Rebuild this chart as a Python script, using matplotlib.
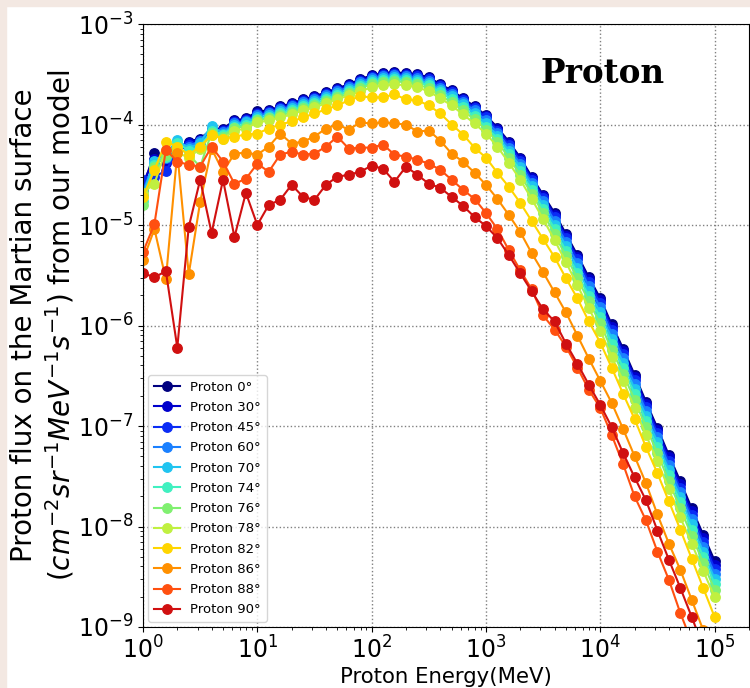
import numpy as np
import matplotlib
matplotlib.use('Agg')
import matplotlib.pyplot as plt
from matplotlib.patches import Rectangle

plt.rcParams['figure.figsize'] = [7.5, 6.88]
plt.rcParams['figure.dpi'] = 100

# ---------------------------------------------------------------------------- #
# energies: 10 points per decade from 1 MeV to 1e5 MeV
energy_exp = np.arange(0, 51) / 10.0

# log10 of the flux for every zenith angle
log_flux_0 = [-4.62, -4.28, -4.35, -4.24, -4.17, -4.14, -4.05, -4.04, -3.96, -3.94,
              -3.87, -3.86, -3.82, -3.79, -3.75, -3.72, -3.68, -3.64, -3.60, -3.55,
              -3.51, -3.49, -3.48, -3.49, -3.50, -3.53, -3.60, -3.66, -3.74, -3.82,
              -3.91, -4.03, -4.17, -4.33, -4.52, -4.70, -4.88, -5.09, -5.30, -5.52,
              -5.73, -5.99, -6.23, -6.49, -6.76, -7.02, -7.29, -7.55, -7.82, -8.08, -8.34]
log_flux_30 = [-4.58, -4.34, -4.38, -4.25, -4.18, -4.15, -4.06, -4.05, -3.97, -3.95,
               -3.89, -3.87, -3.83, -3.80, -3.76, -3.73, -3.69, -3.65, -3.61, -3.56,
               -3.52, -3.50, -3.49, -3.50, -3.51, -3.54, -3.61, -3.67, -3.75, -3.83,
               -3.92, -4.04, -4.18, -4.34, -4.53, -4.71, -4.90, -5.11, -5.32, -5.54,
               -5.75, -6.01, -6.25, -6.51, -6.78, -7.04, -7.31, -7.58, -7.85, -8.11, -8.38]
log_flux_45 = [-4.55, -4.52, -4.46, -4.27, -4.20, -4.17, -4.08, -4.06, -3.98, -3.96,
               -3.90, -3.88, -3.84, -3.81, -3.77, -3.74, -3.70, -3.66, -3.62, -3.57,
               -3.53, -3.51, -3.50, -3.51, -3.52, -3.55, -3.62, -3.68, -3.76, -3.84,
               -3.93, -4.06, -4.20, -4.36, -4.55, -4.73, -4.92, -5.13, -5.34, -5.57,
               -5.78, -6.04, -6.28, -6.54, -6.81, -7.07, -7.35, -7.62, -7.89, -8.15, -8.42]
log_flux_60 = [-4.66, -4.38, -4.33, -4.20, -4.22, -4.16, -4.04, -4.07, -3.99, -3.97,
               -3.91, -3.89, -3.85, -3.82, -3.78, -3.75, -3.71, -3.67, -3.63, -3.58,
               -3.54, -3.52, -3.51, -3.52, -3.54, -3.57, -3.64, -3.70, -3.78, -3.86,
               -3.96, -4.08, -4.23, -4.39, -4.58, -4.76, -4.96, -5.17, -5.38, -5.61,
               -5.82, -6.08, -6.32, -6.58, -6.85, -7.11, -7.39, -7.66, -7.93, -8.20, -8.47]
log_flux_70 = [-4.70, -4.36, -4.30, -4.15, -4.24, -4.18, -4.01, -4.09, -4.00, -3.98,
               -3.93, -3.91, -3.87, -3.84, -3.80, -3.77, -3.73, -3.69, -3.65, -3.60,
               -3.56, -3.54, -3.53, -3.54, -3.56, -3.59, -3.66, -3.72, -3.80, -3.89,
               -3.99, -4.11, -4.26, -4.42, -4.61, -4.80, -5.00, -5.21, -5.43, -5.66,
               -5.87, -6.13, -6.37, -6.63, -6.90, -7.16, -7.44, -7.71, -7.98, -8.25, -8.52]
log_flux_74 = [-4.76, -4.40, -4.32, -4.18, -4.26, -4.22, -4.06, -4.10, -4.02, -4.00,
               -3.95, -3.93, -3.89, -3.86, -3.82, -3.79, -3.75, -3.71, -3.67, -3.62,
               -3.58, -3.56, -3.55, -3.56, -3.58, -3.61, -3.68, -3.75, -3.83, -3.92,
               -4.02, -4.14, -4.29, -4.46, -4.65, -4.84, -5.04, -5.26, -5.48, -5.71,
               -5.92, -6.18, -6.42, -6.68, -6.95, -7.21, -7.49, -7.76, -8.03, -8.30, -8.57]
log_flux_76 = [-4.80, -4.42, -4.30, -4.22, -4.30, -4.42, -4.08, -4.12, -4.03, -4.02,
               -3.96, -3.94, -3.91, -3.88, -3.84, -3.81, -3.77, -3.73, -3.69, -3.64,
               -3.60, -3.58, -3.57, -3.58, -3.60, -3.64, -3.71, -3.78, -3.86, -3.95,
               -4.05, -4.17, -4.33, -4.50, -4.69, -4.88, -5.09, -5.31, -5.53, -5.76,
               -5.98, -6.24, -6.48, -6.74, -7.01, -7.27, -7.55, -7.82, -8.09, -8.36, -8.63]
log_flux_78 = [-4.68, -4.59, -4.25, -4.28, -4.33, -4.24, -4.10, -4.14, -4.06, -4.04,
               -3.98, -3.96, -3.93, -3.90, -3.86, -3.83, -3.79, -3.75, -3.71, -3.67,
               -3.63, -3.61, -3.60, -3.61, -3.63, -3.67, -3.74, -3.81, -3.90, -3.99,
               -4.09, -4.22, -4.38, -4.55, -4.74, -4.94, -5.15, -5.37, -5.60, -5.83,
               -6.05, -6.31, -6.55, -6.82, -7.09, -7.35, -7.63, -7.91, -8.17, -8.44, -8.70]
log_flux_82 = [-4.72, -4.45, -4.17, -4.22, -4.30, -4.22, -4.10, -4.14, -4.12, -4.10,
               -4.09, -4.04, -4.00, -3.97, -3.93, -3.89, -3.85, -3.81, -3.76, -3.72,
               -3.73, -3.73, -3.70, -3.75, -3.76, -3.81, -3.89, -4.00, -4.10, -4.23,
               -4.33, -4.48, -4.62, -4.78, -4.96, -5.14, -5.32, -5.53, -5.73, -5.96,
               -6.17, -6.42, -6.68, -6.93, -7.21, -7.47, -7.75, -8.03, -8.32, -8.61, -8.90]
log_flux_86 = [-5.35, -5.04, -5.54, -4.28, -5.49, -4.77, -4.24, -4.47, -4.29, -4.28,
               -4.30, -4.22, -4.09, -4.19, -4.17, -4.12, -4.04, -4.00, -4.05, -3.98,
               -3.99, -3.98, -3.99, -4.00, -4.07, -4.06, -4.16, -4.29, -4.37, -4.48,
               -4.60, -4.74, -4.90, -5.07, -5.28, -5.47, -5.67, -5.87, -6.10, -6.33,
               -6.55, -6.77, -7.03, -7.30, -7.57, -7.88, -8.17, -8.43, -8.73, -9.03, -9.33]
log_flux_88 = [-5.27, -4.99, -4.25, -4.37, -4.40, -4.42, -4.22, -4.37, -4.59, -4.54,
               -4.39, -4.47, -4.30, -4.27, -4.30, -4.29, -4.22, -4.12, -4.24, -4.23,
               -4.23, -4.20, -4.30, -4.32, -4.35, -4.39, -4.45, -4.55, -4.65, -4.74,
               -4.88, -5.04, -5.25, -5.45, -5.64, -5.90, -6.04, -6.21, -6.42, -6.64,
               -6.82, -7.09, -7.38, -7.70, -7.94, -8.25, -8.53, -8.86, -9.15, -9.45, -9.75]
log_flux_90 = [-5.48, -5.52, -5.46, -6.22, -5.02, -4.55, -5.08, -4.55, -5.12, -4.68,
               -5.00, -4.80, -4.75, -4.60, -4.72, -4.75, -4.60, -4.52, -4.50, -4.47,
               -4.41, -4.44, -4.57, -4.42, -4.50, -4.59, -4.63, -4.72, -4.81, -4.92,
               -5.01, -5.13, -5.30, -5.48, -5.66, -5.84, -5.96, -6.18, -6.38, -6.59,
               -6.79, -7.01, -7.27, -7.51, -7.74, -8.04, -8.33, -8.61, -8.90, -9.20, -9.50]

angles = [0, 30, 45, 60, 70, 74, 76, 78, 82, 86, 88, 90]
series = [log_flux_0, log_flux_30, log_flux_45, log_flux_60, log_flux_70, log_flux_74,
          log_flux_76, log_flux_78, log_flux_82, log_flux_86, log_flux_88, log_flux_90]
colors = ['#00007f', '#0000cc', '#0a2cf5', '#1a80ff', '#20c4f0', '#40f0c0',
          '#80f070', '#c0f040', '#ffd500', '#ff9000', '#ff5010', '#d01010']

# ---------------------------------------------------------------------------- #
fig = plt.figure()
fig.patches.append(Rectangle((0, 1 - 6/688), 1, 6/688, transform=fig.transFigure,
                             color='#f3e8e2', zorder=0))
fig.patches.append(Rectangle((0, 0), 6/750, 1, transform=fig.transFigure,
                             color='#f3e8e2', zorder=0))

ax = fig.add_axes([143/750, 1 - 627/688, 606/750, 603/688])
E = 10**energy_exp
for a, s, c in zip(angles, series, colors):
    ax.plot(E, 10**np.array(s), '-o', color=c, lw=1.5, ms=6.8,
            label='Proton %d°' % a)

ax.set_xscale('log')
ax.set_yscale('log')
ax.set_xlim(1, 2e5)
ax.set_ylim(1e-9, 1e-3)
ax.set_xticks([1e0, 1e1, 1e2, 1e3, 1e4, 1e5])
ax.grid(True, which='major', linestyle=':', color='gray', lw=1)
ax.tick_params(axis='both', which='major', labelsize=17)

ax.set_xlabel('Proton Energy(MeV)', fontsize=15.3, labelpad=2)
ax.set_ylabel('Proton flux on the Martian surface\n($cm^{-2}sr^{-1}MeV^{-1}s^{-1}$) from our model',
              fontsize=20, labelpad=1)

ax.text(0.759, 0.918, 'Proton', transform=ax.transAxes, fontsize=23.5,
        family='DejaVu Serif', weight='bold', ha='center', va='center')

ax.legend(loc='lower left', fontsize=9.5, handlelength=2.0, labelspacing=0.55,
          borderaxespad=0.4)

fig.savefig('out.png', dpi=100)
